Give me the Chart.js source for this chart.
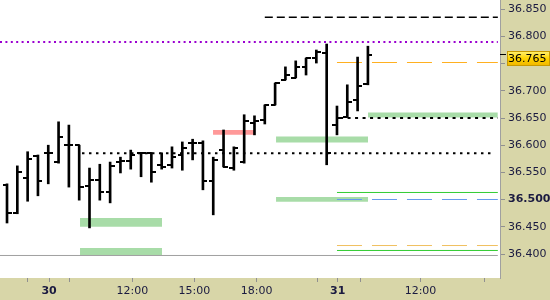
<!DOCTYPE html>
<html>
<head>
<meta charset="utf-8">
<script src="https://cdn.jsdelivr.net/npm/chart.js@4/dist/chart.umd.min.js"></script>
<style>
  html, body { margin: 0; padding: 0; background: #fff; }
  #wrap { width: 550px; height: 300px; position: relative; }
</style>
</head>
<body>
<div id="wrap"><canvas id="c"></canvas></div>
<script>
// ---- DATA (30-minute OHLC bars, bar index 0..35) ----
const barOpen  = [36.527,36.475,36.540,36.580,36.586,36.569,36.600,36.600,36.525,36.536,36.514,36.569,36.571,36.586,36.586,36.564,36.564,36.582,36.604,36.604,36.534,36.591,36.558,36.569,36.641,36.646,36.674,36.720,36.724,36.744,36.760,36.769,36.637,36.652,36.683,36.713];
const barHigh  = [36.529,36.562,36.588,36.582,36.600,36.643,36.637,36.600,36.558,36.565,36.569,36.578,36.591,36.586,36.586,36.586,36.597,36.606,36.611,36.608,36.578,36.628,36.597,36.656,36.654,36.674,36.714,36.744,36.755,36.760,36.775,36.786,36.672,36.711,36.762,36.782];
const barLow   = [36.457,36.474,36.497,36.507,36.529,36.567,36.523,36.499,36.448,36.499,36.494,36.549,36.556,36.542,36.532,36.556,36.558,36.554,36.573,36.518,36.472,36.560,36.554,36.567,36.619,36.639,36.674,36.720,36.724,36.729,36.751,36.564,36.619,36.652,36.663,36.711];
const barClose = [36.475,36.551,36.575,36.534,36.586,36.615,36.600,36.523,36.536,36.514,36.562,36.571,36.582,36.586,36.551,36.560,36.578,36.595,36.604,36.534,36.573,36.560,36.595,36.645,36.645,36.674,36.714,36.729,36.744,36.760,36.771,36.586,36.650,36.679,36.709,36.765];

// horizontal levels (value, from bar index, to bar index)
const levelValues = [36.7897, 36.835, 36.752, 36.650, 36.585, 36.5131, 36.5002, 36.4156, 36.4065, 36.3973];
const levelFrom   = [-0.68,   25.0,   32.0,   32.3,   7.27,   32.0,    32.0,    32.0,    32.0,    -0.68];
const levelTo     = [47.6,    47.6,   47.6,   47.6,   47.15,  47.6,    47.6,    47.6,    47.6,    47.6];

// shaded zones (low, high, from bar index, to bar index)
const zoneLow  = [36.450, 36.398, 36.605, 36.496, 36.651, 36.619];
const zoneHigh = [36.466, 36.411, 36.616, 36.505, 36.660, 36.628];
const zoneFrom = [7.08,   7.08,   26.09,  26.09,  35.01,  19.98];
const zoneTo   = [15.03,  15.03,  35.01,  35.01,  47.6,   23.96];

// axis ticks
const xTickValues = [1.94, 4.08, 6.03, 12.15, 18.17, 24.2, 30.1, 32.07, 34.3, 40.1, 46.3];
const xTickLabels = ['', '30', '', '12:00', '15:00', '18:00', '', '31', '', '12:00', ''];
const xBoldLabels = ['30', '31'];
const yTickValues = [36.40, 36.45, 36.50, 36.55, 36.60, 36.65, 36.70, 36.75, 36.80, 36.85];
const yBoldValue = 36.50;
const lastPrice = barClose[barClose.length - 1];

// ---- STYLES ----
const levelStyles = [
  { color: '#9b00d0', width: 2,   dash: [2, 3.4] },
  { color: '#000000', width: 1.5, dash: [8, 4] },
  { color: '#ffb020', width: 1,   dash: [25, 10] },
  { color: '#000000', width: 2,   dash: [3, 4.5] },
  { color: '#000000', width: 2,   dash: [2.5, 4.5] },
  { color: '#33cc33', width: 1,   dash: [] },
  { color: '#6699ee', width: 1,   dash: [25, 10] },
  { color: '#f0c060', width: 1,   dash: [25, 10] },
  { color: '#33cc33', width: 1,   dash: [] },
  { color: '#a0a0a0', width: 1,   dash: [] }
];
const zoneColors = ['#a8dca8', '#a8dca8', '#a8dca8', '#a8dca8', '#a8dca8', '#ff9999'];
const AXIS_BG = '#d8d6a8';
const TEXT_COLOR = '#1a1a40';

function tickImage(side) {
  const c = document.createElement('canvas');
  c.width = 9; c.height = 2;
  const g = c.getContext('2d');
  g.fillStyle = '#000';
  if (side === 'L') g.fillRect(0, 0, 5, 2); else g.fillRect(4, 0, 5, 2);
  return c;
}

const idx = barOpen.map((_, i) => i);
const datasets = [];

datasets.push({
  type: 'bar', label: 'hl', order: 0,
  data: idx.map(i => ({ x: i, y: [barLow[i], barHigh[i]] })),
  backgroundColor: '#000', borderWidth: 0, barThickness: 2
});
datasets.push({
  type: 'line', label: 'open', order: 0, showLine: false,
  data: idx.map(i => ({ x: i, y: barOpen[i] })),
  pointStyle: tickImage('L'), pointRadius: 4, pointHoverRadius: 4
});
datasets.push({
  type: 'line', label: 'close', order: 0, showLine: false,
  data: idx.map(i => ({ x: i, y: barClose[i] })),
  pointStyle: tickImage('R'), pointRadius: 4, pointHoverRadius: 4
});
levelValues.forEach((v, k) => {
  datasets.push({
    type: 'line', label: 'lvl' + k, order: 1,
    data: [{ x: levelFrom[k], y: v }, { x: levelTo[k], y: v }],
    borderColor: levelStyles[k].color, borderWidth: levelStyles[k].width,
    borderDash: levelStyles[k].dash, pointRadius: 0, fill: false, tension: 0
  });
});
zoneLow.forEach((lo, k) => {
  datasets.push({
    type: 'line', label: 'zone' + k, order: 2,
    data: [{ x: zoneFrom[k], y: zoneHigh[k] }, { x: zoneTo[k], y: zoneHigh[k] }],
    borderColor: 'rgba(0,0,0,0)', borderWidth: 0, pointRadius: 0,
    fill: { value: lo }, backgroundColor: zoneColors[k], tension: 0
  });
});

const bgPlugin = {
  id: 'bg',
  beforeDraw(chart) {
    const { ctx, chartArea: a, width, height } = chart;
    ctx.save();
    ctx.fillStyle = AXIS_BG;
    ctx.fillRect(0, 0, width, height);
    ctx.fillStyle = '#ffffff';
    ctx.fillRect(a.left, a.top, a.right - a.left, a.bottom - a.top);
    ctx.restore();
  }
};

const lastPricePlugin = {
  id: 'lastPrice',
  afterDraw(chart) {
    const { ctx, chartArea: a } = chart;
    const y = chart.scales.y.getPixelForValue(lastPrice);
    const top = Math.round(y) - 4, h = 15, left = a.right + 7, w = 550 - left;
    ctx.save();
    const gr = ctx.createLinearGradient(0, top, 0, top + h);
    gr.addColorStop(0, '#fff27a');
    gr.addColorStop(0.5, '#ffd400');
    gr.addColorStop(1, '#f0b400');
    ctx.fillStyle = gr;
    ctx.fillRect(left, top, w, h);
    ctx.strokeStyle = '#c89a00';
    ctx.lineWidth = 1;
    ctx.strokeRect(left + 0.5, top + 0.5, w - 1, h - 1);
    ctx.fillStyle = '#000';
    ctx.fillRect(a.right, Math.round(y) - 1, 6, 1);
    ctx.font = '11px "DejaVu Sans"';
    ctx.textBaseline = 'middle';
    ctx.textAlign = 'left';
    ctx.fillText(lastPrice.toFixed(3), a.right + 8, top + h / 2 + 0.5);
    ctx.restore();
  }
};

function noPad(s) { s.paddingTop = 0; s.paddingBottom = 0; s.paddingLeft = 0; s.paddingRight = 0; }

new Chart(document.getElementById('c'), {
  type: 'line',
  data: { datasets },
  options: {
    responsive: true, maintainAspectRatio: false, animation: false,
    layout: { padding: 0, autoPadding: false },
    plugins: { legend: { display: false }, tooltip: { enabled: false } },
    scales: {
      x: {
        type: 'linear', min: -0.68, max: 47.81, offset: false,
        afterFit(s) { s.height = 22; noPad(s); },
        afterBuildTicks(s) { s.ticks = xTickValues.map(v => ({ value: v })); },
        grid: { drawOnChartArea: false, drawTicks: true, tickLength: 4, color: '#909090', offset: false },
        border: { display: false },
        ticks: {
          autoSkip: false, maxRotation: 0, padding: 3, color: TEXT_COLOR,
          font: (ctx) => ({ family: 'DejaVu Sans', size: 11,
            weight: (ctx.tick && xBoldLabels.includes(xTickLabels[ctx.index])) ? 'bold' : 'normal' }),
          callback: (v, i) => xTickLabels[i]
        }
      },
      y: {
        type: 'linear', position: 'right', min: 36.3559, max: 36.8669,
        afterFit(s) { s.width = 50; noPad(s); },
        afterBuildTicks(s) { s.ticks = yTickValues.map(v => ({ value: v })); },
        grid: { drawOnChartArea: false, drawTicks: true, tickLength: 5, color: '#909090' },
        border: { display: true, color: '#a0a0a0' },
        ticks: {
          padding: 3, color: TEXT_COLOR,
          font: (ctx) => ({ family: 'DejaVu Sans', size: 11,
            weight: (ctx.tick && Math.abs(ctx.tick.value - yBoldValue) < 1e-6) ? 'bold' : 'normal' }),
          callback: (v) => v.toFixed(3)
        }
      }
    }
  },
  plugins: [bgPlugin, lastPricePlugin]
});
</script>
</body>
</html>
